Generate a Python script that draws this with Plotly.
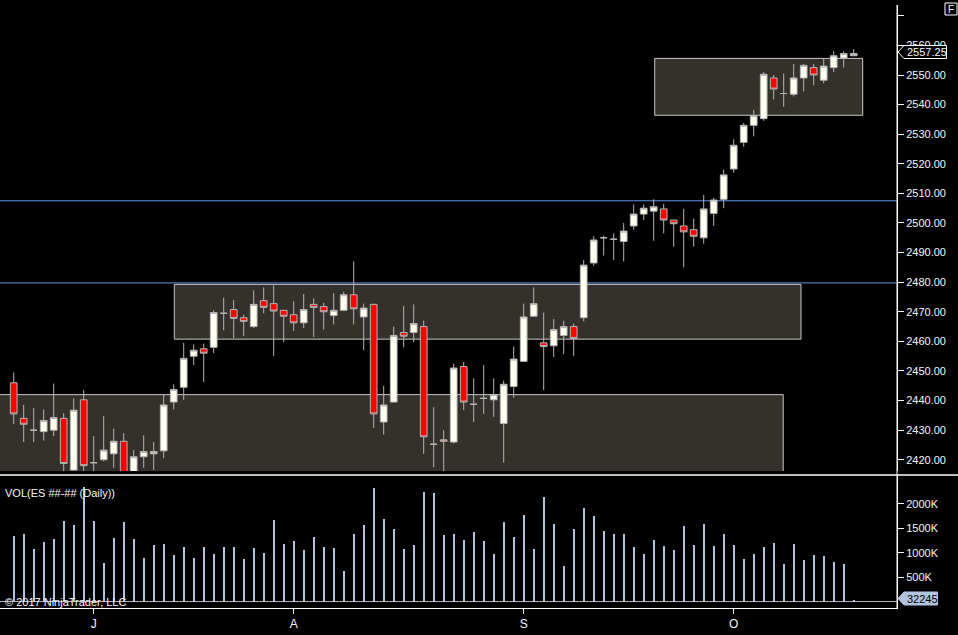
import pandas as pd
import plotly.graph_objects as go

WIDTH = 958
HEIGHT = 635
PLOT_RIGHT = 897  # x pixel of the right price axis

# daily bars, ES futures, 21 Jun - 18 Oct 2017 (no bar for 4 July)
DATES = [
    d.strftime("%Y-%m-%d")
    for d in pd.bdate_range("2017-06-21", "2017-10-18")
    if d != pd.Timestamp("2017-07-04")
]

OPEN = [
    2446.0, 2434.0, 2430.0, 2429.5, 2430.0, 2434.0, 2416.5, 2440.25, 2419.0, 2420.0,
    2422.0, 2426.25, 2414.5, 2421.0, 2422.0, 2423.0, 2439.5, 2444.5, 2455.0, 2457.5,
    2458.0, 2469.5, 2470.75, 2468.0, 2465.0, 2473.75, 2472.75, 2470.5, 2469.0, 2466.25,
    2472.5, 2471.75, 2468.75, 2470.5, 2475.75, 2468.25, 2472.5, 2432.75, 2439.5, 2463.0,
    2463.0, 2465.0, 2425.25, 2426.75, 2426.0, 2451.5, 2438.75, 2440.75, 2440.25, 2432.25,
    2444.75, 2453.25, 2468.5, 2459.5, 2458.5, 2462.0, 2465.0, 2468.0, 2486.5, 2495.0,
    2494.5, 2493.75, 2499.0, 2503.0, 2504.0, 2504.75, 2501.0, 2499.0, 2497.75, 2495.0,
    2503.25, 2508.0, 2518.25, 2527.25, 2533.0, 2535.25, 2549.0, 2543.75, 2543.5, 2549.0,
    2552.5, 2548.25, 2552.5, 2555.75, 2556.5,
]
HIGH = [
    2449.5, 2438.5, 2437.5, 2437.0, 2445.75, 2435.75, 2440.75, 2443.5, 2428.0, 2434.75,
    2430.5, 2429.0, 2423.25, 2428.25, 2426.0, 2442.0, 2445.5, 2459.5, 2459.0, 2459.25,
    2470.5, 2474.75, 2474.0, 2469.0, 2477.25, 2478.25, 2479.0, 2470.5, 2473.5, 2476.0,
    2474.5, 2473.0, 2476.25, 2476.75, 2487.0, 2472.75, 2472.75, 2445.0, 2465.0, 2472.0,
    2472.5, 2467.0, 2437.75, 2430.0, 2452.5, 2453.0, 2447.5, 2452.0, 2447.5, 2446.75,
    2458.25, 2472.75, 2478.25, 2469.75, 2467.5, 2467.0, 2466.0, 2487.5, 2495.5, 2495.75,
    2496.5, 2500.0, 2506.25, 2506.25, 2508.0, 2506.5, 2501.0, 2504.75, 2501.5, 2509.5,
    2508.5, 2518.0, 2528.25, 2533.75, 2538.25, 2551.0, 2550.0, 2550.5, 2553.75, 2553.75,
    2553.75, 2555.5, 2558.0, 2558.0, 2558.75,
]
LOW = [
    2432.0, 2426.0, 2426.0, 2426.5, 2428.0, 2415.0, 2415.5, 2414.75, 2413.0, 2419.5,
    2417.25, 2412.0, 2413.0, 2417.25, 2416.5, 2420.5, 2437.0, 2440.25, 2452.0, 2446.25,
    2456.0, 2463.75, 2461.0, 2461.75, 2464.5, 2469.5, 2455.0, 2459.75, 2463.5, 2464.5,
    2461.5, 2464.0, 2465.75, 2470.25, 2465.75, 2457.0, 2430.75, 2428.5, 2439.5, 2458.0,
    2459.75, 2422.0, 2417.5, 2415.5, 2425.5, 2436.75, 2432.75, 2435.5, 2434.5, 2419.0,
    2441.0, 2453.0, 2468.25, 2443.5, 2454.75, 2455.75, 2455.0, 2466.75, 2485.5, 2489.0,
    2487.5, 2487.0, 2497.75, 2501.0, 2494.0, 2496.5, 2492.0, 2485.0, 2492.0, 2493.0,
    2499.0, 2505.0, 2517.0, 2525.75, 2529.25, 2534.5, 2541.75, 2539.25, 2542.75, 2544.5,
    2546.5, 2547.25, 2551.0, 2552.5, 2556.5,
]
CLOSE = [
    2435.5, 2432.0, 2430.0, 2433.25, 2434.25, 2418.75, 2436.75, 2418.0, 2419.0, 2423.25,
    2426.25, 2414.0, 2421.0, 2422.75, 2422.75, 2438.5, 2443.75, 2454.25, 2457.0, 2456.0,
    2469.75, 2469.5, 2467.75, 2466.75, 2472.5, 2471.5, 2470.25, 2468.5, 2466.25, 2470.75,
    2471.5, 2470.0, 2470.5, 2475.75, 2471.0, 2471.25, 2435.5, 2438.5, 2462.0, 2461.75,
    2466.0, 2427.75, 2425.25, 2426.25, 2451.0, 2439.5, 2438.75, 2440.75, 2442.0, 2445.5,
    2454.0, 2468.25, 2472.75, 2458.25, 2464.0, 2465.0, 2461.0, 2485.75, 2494.25, 2495.0,
    2494.5, 2497.25, 2503.0, 2505.0, 2505.5, 2501.0, 2499.75, 2497.0, 2495.5, 2504.75,
    2507.75, 2516.25, 2526.25, 2533.0, 2536.25, 2550.25, 2545.25, 2543.75, 2549.0, 2553.25,
    2550.0, 2553.0, 2556.5, 2557.25, 2557.25,
]
VOLUME = [
    1344000, 1385000, 1078000, 1221000, 1283000, 1651000, 1569000, 2353000, 1651000, 792000,
    1303000, 1631000, 1283000, 894000, 1160000, 1180000, 955000, 1119000, 894000, 1119000,
    976000, 1119000, 1119000, 874000, 1099000, 996000, 1672000, 1180000, 1242000, 1058000,
    1324000, 1119000, 1099000, 628000, 1385000, 1569000, 2326000, 1692000, 1487000, 1078000,
    1160000, 2244000, 2224000, 1365000, 1385000, 1262000, 1426000, 1242000, 976000, 1631000,
    1324000, 1774000, 1078000, 2142000, 1590000, 730000, 1487000, 1917000, 1753000, 1446000,
    1385000, 1385000, 1119000, 976000, 1262000, 1140000, 1058000, 1549000, 1160000, 1590000,
    1140000, 1385000, 1160000, 874000, 976000, 1119000, 1201000, 771000, 1180000, 853000,
    955000, 935000, 812000, 771000, 32245,
]

MONTH_TICKS = ["2017-07-03", "2017-08-01", "2017-09-01", "2017-10-02"]
MONTH_LABELS = ["J", "A", "S", "O"]

PRICE_TICKS = [2420, 2430, 2440, 2450, 2460, 2470, 2480, 2490, 2500, 2510,
               2520, 2530, 2540, 2550, 2560, 2570]
VOLUME_TICKS = [500000, 1000000, 1500000, 2000000]
VOLUME_LABELS = ["500K", "1000K", "1500K", "2000K"]

# drawn objects on the chart: (first bar, last bar, low price, high price)
ZONES = [
    (-2.0, 76.95, 2405.0, 2442.0),
    (16.06, 78.73, 2460.75, 2479.25),
    (64.1, 84.9, 2536.4, 2555.6),
]
LEVELS = [2507.5, 2479.75]

BG = "#000000"
TEXT = "#f2f5ff"
FONT = "Liberation Sans, Arial, sans-serif"


def px_x(px: float) -> float:
    return px / PLOT_RIGHT


def px_y(py: float) -> float:
    return (HEIGHT - py) / HEIGHT


def build_figure() -> go.Figure:
    assert len(DATES) == len(OPEN) == len(VOLUME)
    fig = go.Figure()

    fig.add_trace(go.Candlestick(
        x=DATES, open=OPEN, high=HIGH, low=LOW, close=CLOSE,
        increasing=dict(line=dict(color="#b4b4b4", width=1), fillcolor="#fffff0"),
        decreasing=dict(line=dict(color="#b4b4b4", width=1), fillcolor="#ff0000"),
        whiskerwidth=0, showlegend=False, xaxis="x", yaxis="y",
    ))
    fig.add_trace(go.Bar(
        x=DATES, y=VOLUME, width=0.22,
        marker=dict(color="#b0c4de", line_width=0),
        showlegend=False, xaxis="x", yaxis="y2",
    ))

    shapes = []
    for x0, x1, y0, y1 in ZONES:
        shapes.append(dict(
            type="rect", xref="x", yref="y", x0=x0, x1=x1, y0=y0, y1=y1,
            fillcolor="#34302b", line=dict(color="#c8c8c8", width=1), layer="below",
        ))
    for level in LEVELS:
        shapes.append(dict(
            type="line", xref="paper", yref="y", x0=0, x1=1, y0=level, y1=level,
            line=dict(color="#6495ed", width=1), layer="below",
        ))

    # panel separator and the continuous right axis line
    shapes.append(dict(type="line", xref="paper", yref="paper",
                       x0=0, x1=WIDTH / PLOT_RIGHT, y0=px_y(475), y1=px_y(475),
                       line=dict(color="#ffffff", width=1.5)))
    shapes.append(dict(type="line", xref="paper", yref="paper",
                       x0=1, x1=1, y0=px_y(608), y1=px_y(5),
                       line=dict(color="#ffffff", width=1)))

    # last price marker
    last = CLOSE[-1]
    c = px_y(52)
    h = 6.5 / HEIGHT
    shapes.append(dict(
        type="path", xref="paper", yref="paper",
        path=(f"M {px_x(898)} {c} L {px_x(904)} {c + h} L {px_x(946.5)} {c + h} "
              f"L {px_x(946.5)} {c - h} L {px_x(904)} {c - h} Z"),
        fillcolor="#000000", line=dict(color="#ffffff", width=1), layer="above",
    ))
    # last volume marker
    c = px_y(598.5)
    shapes.append(dict(
        type="path", xref="paper", yref="paper",
        path=(f"M {px_x(898)} {c} L {px_x(904)} {c + h} L {px_x(937.5)} {c + h} "
              f"L {px_x(937.5)} {c - h} L {px_x(904)} {c - h} Z"),
        fillcolor="#b0c4de", line=dict(color="#b0c4de", width=1), layer="above",
    ))
    # "F" button
    shapes.append(dict(type="rect", xref="paper", yref="paper",
                       x0=px_x(945), x1=px_x(957), y0=px_y(15), y1=px_y(3),
                       line=dict(color="#ffffff", width=1), fillcolor="#000000"))

    annotations = [
        dict(text="VOL(ES ##-## (Daily))", x=px_x(3), y=px_y(493)),
        dict(text="© 2017 NinjaTrader, LLC", x=px_x(3), y=px_y(602)),
        dict(text=f"{last:.2f}", x=px_x(905), y=px_y(52.5)),
        dict(text=f"{VOLUME[-1]}", x=px_x(905), y=px_y(599), font=dict(color="#000000", size=11, family=FONT)),
        dict(text="F", x=px_x(951), y=px_y(9), xanchor="center", font=dict(color=TEXT, size=10, family=FONT)),
    ]
    for a in annotations:
        a.update(xref="paper", yref="paper", showarrow=False, yanchor="middle")
        a.setdefault("xanchor", "left")
        a.setdefault("font", dict(color=TEXT, size=11, family=FONT))

    axis_common = dict(
        showgrid=False, zeroline=False, showline=True, linecolor="#ffffff", linewidth=1,
        ticks="outside", tickcolor="#ffffff", tickfont=dict(color=TEXT, size=11, family=FONT),
    )

    fig.update_layout(
        width=WIDTH, height=HEIGHT, autosize=False,
        margin=dict(l=0, r=WIDTH - PLOT_RIGHT, t=0, b=0, pad=0),
        paper_bgcolor=BG, plot_bgcolor=BG,
        boxgap=0.33, boxgroupgap=0, bargap=0,
        showlegend=False, hovermode=False,
        xaxis=dict(
            axis_common, type="category", anchor="y2", domain=[0, 1],
            range=[-1.37, 88.33], rangeslider=dict(visible=False),
            tickvals=MONTH_TICKS, ticktext=MONTH_LABELS, ticklen=5,
            tickfont=dict(color=TEXT, size=12, family=FONT),
        ),
        yaxis=dict(
            axis_common, side="right", anchor="x", domain=[px_y(471), px_y(5)],
            range=[2416.2, 2573.65], tickvals=PRICE_TICKS,
            ticktext=[f"{v:.2f}" if v < 2570 else "" for v in PRICE_TICKS], ticklen=6,
        ),
        yaxis2=dict(
            axis_common, side="right", anchor="x", domain=[px_y(608), px_y(476)],
            range=[-129000, 2572000], tickvals=VOLUME_TICKS, ticktext=VOLUME_LABELS,
            ticklen=6, zeroline=True, zerolinecolor="#b4b4b4", zerolinewidth=1,
        ),
        shapes=shapes,
        annotations=annotations,
    )
    return fig


if __name__ == "__main__":
    fig = build_figure()
    # the page's default body margin would push the chart 8px down and right
    fig.write_html(
        "out.html",
        config={"displayModeBar": False},
        post_script="document.body.style.margin = '0';",
    )
